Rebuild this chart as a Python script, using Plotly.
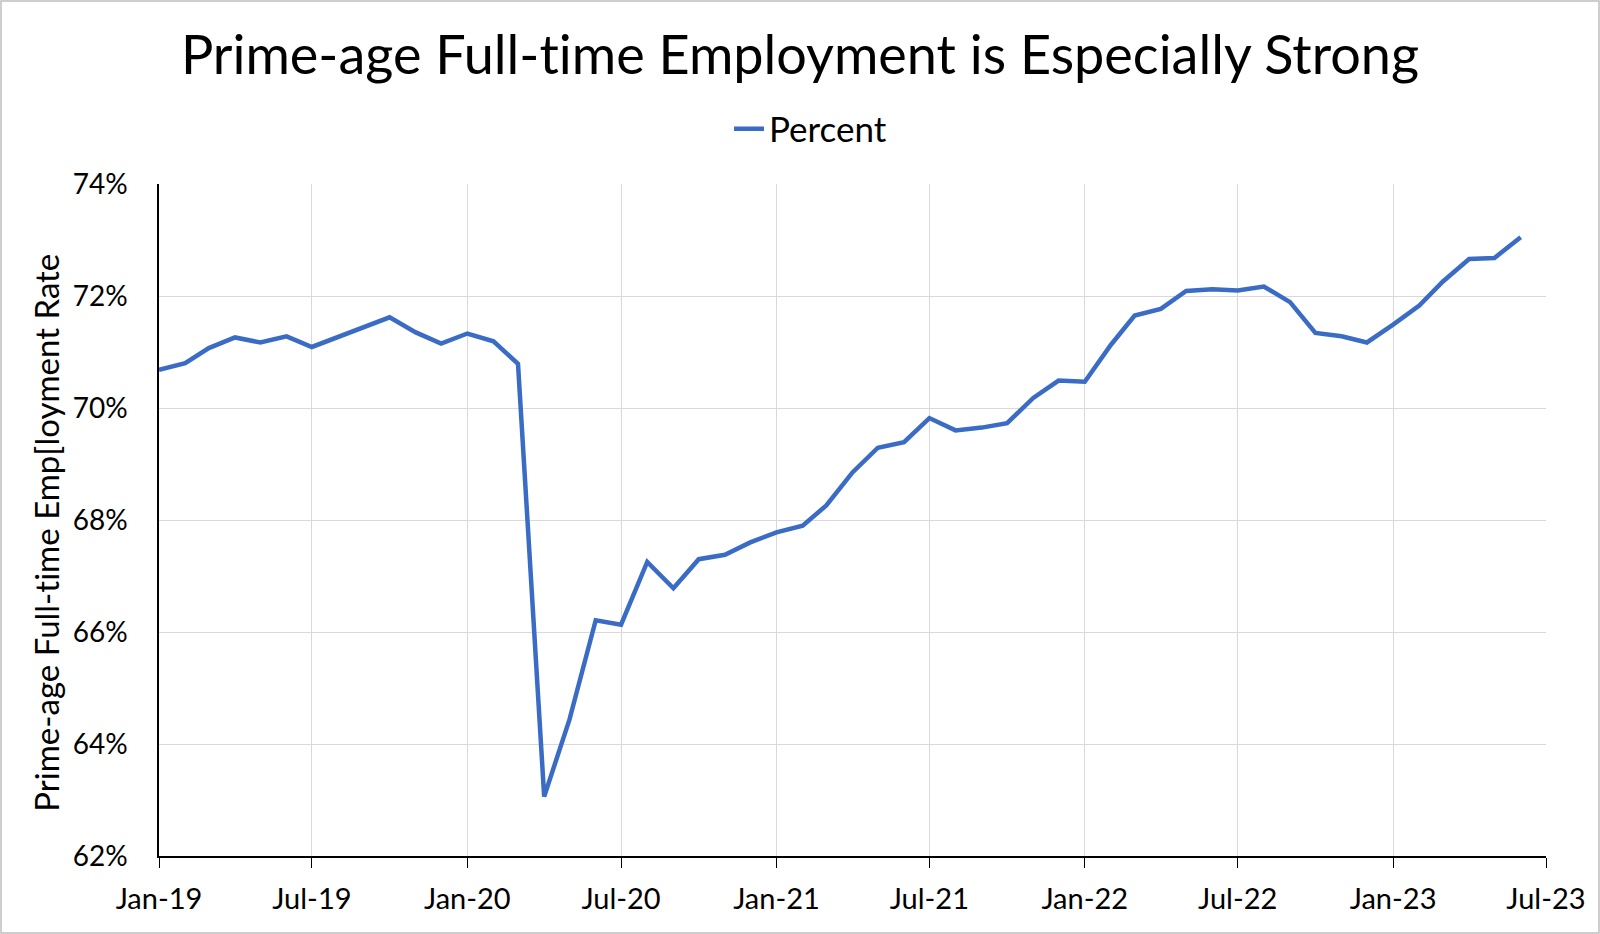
import plotly.graph_objects as go
import pandas as pd

months = pd.date_range("2019-01-01", "2023-06-01", freq="MS")
percent = [
    70.68, 70.80, 71.07, 71.26, 71.17, 71.28, 71.09, 71.27, 71.45, 71.62, 71.35, 71.15,
    71.33, 71.19, 70.79, 63.06, 64.44, 66.21, 66.13, 67.25, 66.78, 67.30, 67.38, 67.60,
    67.78, 67.90, 68.26, 68.85, 69.29, 69.39, 69.82, 69.60, 69.65, 69.73, 70.18, 70.49,
    70.47, 71.13, 71.65, 71.77, 72.09, 72.12, 72.10, 72.17, 71.89, 71.34, 71.28, 71.17,
    71.49, 71.83, 72.26, 72.66, 72.68, 73.05,
]
x_tick_vals = pd.date_range("2019-01-01", "2023-07-01", freq="6MS")
x_tick_text = ["Jan-19", "Jul-19", "Jan-20", "Jul-20", "Jan-21", "Jul-21",
               "Jan-22", "Jul-22", "Jan-23", "Jul-23"]
y_tick_vals = [62, 64, 66, 68, 70, 72, 74]
y_tick_text = ["62%", "64%", "66%", "68%", "70%", "72%", "74%"]

W, H = 1600, 934
ML, MR, MT, MB = 159, 54, 184, 78
PW, PH = W - ML - MR, H - MT - MB

fig = go.Figure()
fig.add_trace(go.Scatter(
    x=months, y=percent, mode="lines", name="Percent",
    line=dict(color="#3A6BC5", width=4.5),
))

fig.update_layout(
    width=W, height=H,
    margin=dict(l=ML, r=MR, t=MT, b=MB, autoexpand=False),
    paper_bgcolor="white", plot_bgcolor="white",
    font=dict(family="Lato", color="black"),
    title=dict(text="Prime-age Full-time Employment is Especially Strong",
               font=dict(size=54, family="Lato", color="black"),
               x=0.5, xanchor="center", xref="container",
               y=1 - 55 / H, yanchor="middle", yref="container"),
    showlegend=True,
    legend=dict(orientation="h", x=(729 - ML) / PW, xanchor="left",
                y=1 + (MT - 129) / PH, yanchor="middle",
                font=dict(size=35, family="Lato", color="black"),
                itemwidth=30, bgcolor="rgba(0,0,0,0)"),
    xaxis=dict(
        type="date", automargin=False,
        range=[x_tick_vals[0], x_tick_vals[-1]],
        tickvals=x_tick_vals, ticktext=x_tick_text,
        tickfont=dict(size=29, family="Lato", color="black"),
        showgrid=True, gridcolor="#d9d9d9", gridwidth=1.3,
        showline=True, linecolor="black", linewidth=1.5,
        ticks="outside", ticklen=10, tickcolor="black", tickwidth=1,
        ticklabelstandoff=6,
        zeroline=False, mirror=False,
    ),
    yaxis=dict(
        range=[62, 74], automargin=False,
        tickvals=y_tick_vals, ticktext=y_tick_text,
        tickfont=dict(size=28, family="Lato", color="black"),
        showgrid=True, gridcolor="#d9d9d9", gridwidth=1.3,
        showline=True, linecolor="black", linewidth=1.5,
        ticks="", zeroline=False,
        ticklabelstandoff=24,
    ),
    annotations=[dict(text="Prime-age Full-time Emp[loyment Rate",
                      xref="paper", yref="paper",
                      x=(46 - ML) / PW, y=(H - MB - 533) / PH,
                      xanchor="center", yanchor="middle", textangle=-90,
                      showarrow=False,
                      font=dict(size=33, family="Lato", color="black"))],
    shapes=[dict(type="rect", xref="paper", yref="paper",
                 x0=(1 - ML) / PW, x1=(W - 1 - ML) / PW,
                 y0=-(MB - 1) / PH, y1=1 + (MT - 1) / PH,
                 line=dict(color="#bfbfbf", width=1.5), fillcolor="rgba(0,0,0,0)",
                 layer="below")],
)

fig.write_html(
    "out.html", config={"displayModeBar": False},
    post_script=(
        "document.body.style.margin='0';"
        "document.body.style.fontVariantLigatures='none';"
        "document.querySelectorAll('text').forEach(function(t){"
        "t.style.fontVariantLigatures='none';});"
    ),
)
